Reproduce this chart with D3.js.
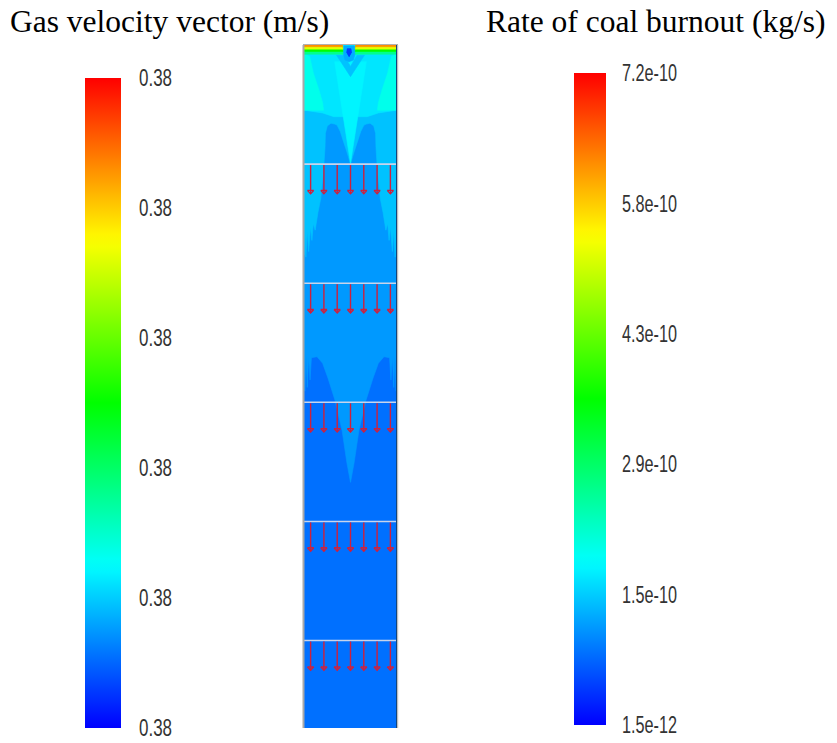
<!DOCTYPE html>
<html><head><meta charset="utf-8">
<script src="https://cdn.jsdelivr.net/npm/d3@7"></script>
<style>
html,body{margin:0;padding:0;background:#fff;}
svg{display:block;}
</style></head>
<body>
<svg id="chart" width="837" height="743"></svg>
<script>
// ---------------- DATA ----------------
const titles = ["Gas velocity vector (m/s)", "Rate of coal burnout (kg/s)"];
// velocity colour bar (all labels identical in the source)
const velocityTickLabels = ["0.38","0.38","0.38","0.38","0.38","0.38"];
// burnout colour bar
const burnoutRange = [1.5e-12, 7.2e-10];
const burnoutTickValues = [1.5e-12, 1.45e-10, 2.89e-10, 4.33e-10, 5.76e-10, 7.2e-10];
const burnoutTickLabels = ["1.5e-12","1.5e-10","2.9e-10","4.3e-10","5.8e-10","7.2e-10"];
// colour map stops (fraction of range)
const cmapStops = [0, 0.25, 0.5, 0.75, 1];
const cmapColors = ["#0000ff","#00ffff","#00ff00","#ffff00","#ff0000"];

// domain: lateral coordinate u in [-50,50], depth d in [0,734] (same units)
const domainU = [-50, 50];
const domainD = [0, 734];
// contour zones: level (fraction of colour range) + outline in (u,d) data units, painted in order
const zoneLevels = [0.11, 0.15, 0.19, 0.225, 0.27, 0.27, 0.24, 0.19, 0.17, 0.06];
const zoneOutlines = [
  [[-50,0],[50,0],[50,734],[-50,734]],
  [[-50,0],[50,0],[50,332],[49,372],[47.8,335],[46.5,368],[45,336],[43.5,360],[42,336],[36,335],[30,342],[24.2,358],[16.7,381.7],[9.1,414],[3.8,449.5],[0,470],
   [-3.8,449.5],[-9.1,414],[-16.7,381.7],[-24.2,358],[-30,342],[-36,335],[-42,336],[-43.5,360],[-45,336],[-46.5,368],[-47.8,335],[-49,372],[-50,332]],
  [[-50,0],[50,0],[50,226],[49,205],[48,228],[46.5,200],[45,222],[43,196],[41.5,210],[40,192],[38,199],[35,180],[32,165],[30.6,150],[29,135],[27.4,110],[27,95],[25,87],[21,84],[17,85],[14.5,86],[11,93],[8.1,102],[3.8,115],[0,128],
   [-3.8,115],[-8.1,102],[-11,93],[-14.5,86],[-17,85],[-21,84],[-25,87],[-27,95],[-27.4,110],[-29,135],[-30.6,150],[-32,165],[-35,180],[-38,199],[-40,192],[-41.5,210],[-43,196],[-45,222],[-46.5,200],[-48,228],[-49,205],[-50,226]],
  [[-50,0],[50,0],[50,70],[30,73],[18,77],[-18,77],[-30,73],[-50,70]],
  [[-50,10],[-44,12],[-40,30],[-34,48],[-30,62],[-29,70],[-50,70]],
  [[50,10],[44,12],[40,30],[34,48],[30,62],[29,70],[50,70]],
  [[-17,18],[17,18],[0,127]],
  [[-15,11],[-7,11],[0,23],[7,11],[15,11],[0,34]],
  [[-7,1],[4,1],[5.5,8],[3,16],[-1.5,18],[-6,16],[-8,8]],
  [[-3.5,4],[0.5,4],[1,8],[-1.5,12.5],[-4,8]]
];
// hot strip at the inlet (top): levels and depths, interrupted at the centre gap
const stripLevels = [0.36, 0.5, 0.72, 0.86];
const stripDepths = [10, 7, 4.5, 1.8];
const stripGap = [-9, 6];
// velocity vectors: rows (depth) and columns (u), all pointing down with same magnitude
const vectorRows = [128, 256, 384, 512, 640];
const vectorCols = [-42.9, -28.6, -14.3, 0, 14.3, 28.6, 42.9];
const vectorLength = 32;

// ---------------- DRAW ----------------
const svg = d3.select("#chart");
const color = d3.scaleLinear().domain(cmapStops).range(cmapColors).interpolate(d3.interpolateRgb);

// titles
const titleFont = "'Liberation Serif','Times New Roman',serif";
svg.append("text").attr("x", 10).attr("y", 32).text(titles[0])
  .attr("font-family", titleFont).attr("font-size", 31.5).attr("fill", "#000");
svg.append("text").attr("x", 486).attr("y", 32).text(titles[1])
  .attr("font-family", titleFont).attr("font-size", 31.5).attr("fill", "#000");

// gradient
const defs = svg.append("defs");
const grad = defs.append("linearGradient").attr("id","cmap").attr("x1",0).attr("y1",1).attr("x2",0).attr("y2",0);
d3.range(0, 1.0001, 0.02).forEach(t => grad.append("stop").attr("offset", t).attr("stop-color", color(t)));

const labelFont = "'Liberation Sans',sans-serif";
const labelSize = 23;

// left colour bar (velocity)
const velY = d3.scaleLinear().domain([0, velocityTickLabels.length - 1]).range([728, 78]);
svg.append("rect").attr("x", 85).attr("y", velY(5)).attr("width", 36).attr("height", velY(0) - velY(5))
  .attr("fill", "url(#cmap)");
svg.append("g").selectAll("text").data(velocityTickLabels).join("text")
  .attr("x", 139).attr("y", (d,i) => velY(i) + labelSize*0.36)
  .attr("textLength", 33).attr("lengthAdjust", "spacingAndGlyphs")
  .text(d => d).attr("font-family", labelFont).attr("font-size", labelSize).attr("fill", "#333");

// right colour bar (burnout)
const burnY = d3.scaleLinear().domain(burnoutRange).range([725, 73]);
svg.append("rect").attr("x", 574).attr("y", burnY(burnoutRange[1])).attr("width", 32)
  .attr("height", burnY(burnoutRange[0]) - burnY(burnoutRange[1])).attr("fill", "url(#cmap)");
svg.append("g").selectAll("text").data(burnoutTickValues).join("text")
  .attr("x", 622).attr("y", d => burnY(d) + labelSize*0.36)
  .attr("textLength", 55).attr("lengthAdjust", "spacingAndGlyphs")
  .text((d,i) => burnoutTickLabels[i]).attr("font-family", labelFont).attr("font-size", labelSize).attr("fill", "#333");

// domain
const x = d3.scaleLinear().domain(domainU).range([304, 397]);
const y = d3.scaleLinear().domain(domainD).range([45, 728]);
const line = d3.line().x(p => x(p[0])).y(p => y(p[1])).curve(d3.curveLinearClosed);
const dom = svg.append("g");
dom.append("clipPath").attr("id","dclip").append("rect")
  .attr("x", x(domainU[0])).attr("y", y(domainD[0])).attr("width", x(domainU[1]) - x(domainU[0])).attr("height", y(domainD[1]) - y(domainD[0]));
const field = dom.append("g").attr("clip-path","url(#dclip)");
field.selectAll("path.zone").data(zoneOutlines).join("path").attr("class","zone")
  .attr("d", d => line(d))
  .attr("fill", (d,i) => color(zoneLevels[i]))
  .attr("stroke", (d,i) => color(zoneLevels[i])).attr("stroke-width", 0.6).attr("stroke-linejoin","round");
// top strip
stripLevels.forEach((lv, i) => {
  const dd = stripDepths[i];
  [[[domainU[0],0],[stripGap[0],0],[stripGap[0]+1,dd],[domainU[0],dd]],
   [[stripGap[1],0],[domainU[1],0],[domainU[1],dd],[stripGap[1]-1,dd]]].forEach(poly => {
    field.append("path").attr("d", line(poly)).attr("fill", color(lv)).attr("stroke", color(lv)).attr("stroke-width", 0.5);
  });
});
// the dot drawn over the strip
field.append("path").attr("d", line(zoneOutlines[zoneOutlines.length-1]))
  .attr("fill", color(zoneLevels[zoneLevels.length-1]));

// section lines
field.selectAll("line.sec").data(vectorRows).join("line").attr("class","sec")
  .attr("x1", x(domainU[0])).attr("x2", x(domainU[1]))
  .attr("y1", d => y(d)).attr("y2", d => y(d))
  .attr("stroke", "#c8d4ec").attr("stroke-width", 1.6);

// vectors
const vecs = [];
vectorRows.forEach(r => vectorCols.forEach(c => vecs.push([c, r])));
const arrowColor = "#d0203c";
const vg = field.append("g");
vg.selectAll("line.shaft").data(vecs).join("line").attr("class","shaft")
  .attr("x1", d => x(d[0])).attr("x2", d => x(d[0]))
  .attr("y1", d => y(d[1]) + 1).attr("y2", d => y(d[1] + vectorLength))
  .attr("stroke", arrowColor).attr("stroke-width", 1.4);
vg.selectAll("path.head").data(vecs).join("path").attr("class","head")
  .attr("d", d => {
    const px = x(d[0]), py = y(d[1] + vectorLength);
    return `M${px-3.2},${py-3.5}L${px+3.2},${py-3.5}M${px-3.2},${py-3.5}L${px},${py}L${px+3.2},${py-3.5}`;
  })
  .attr("fill", "none").attr("stroke", arrowColor).attr("stroke-width", 1.3);

// border
dom.append("line").attr("x1", x(domainU[0])-0.5).attr("x2", x(domainU[0])-0.5).attr("y1", y(0)).attr("y2", y(domainD[1]))
  .attr("stroke", "#a8a8a8").attr("stroke-width", 2);
dom.append("line").attr("x1", x(domainU[1])-0.5).attr("x2", x(domainU[1])-0.5).attr("y1", y(0)).attr("y2", y(domainD[1]))
  .attr("stroke", "#12467e").attr("stroke-width", 1);
dom.append("line").attr("x1", x(domainU[1])+0.7).attr("x2", x(domainU[1])+0.7).attr("y1", y(0)).attr("y2", y(domainD[1]))
  .attr("stroke", "#b0b0b0").attr("stroke-width", 1);
dom.append("line").attr("x1", x(domainU[0])-1).attr("x2", x(domainU[1])+1).attr("y1", y(0)-0.5).attr("y2", y(0)-0.5)
  .attr("stroke", "#b0b0b0").attr("stroke-width", 1);
</script>
</body></html>
